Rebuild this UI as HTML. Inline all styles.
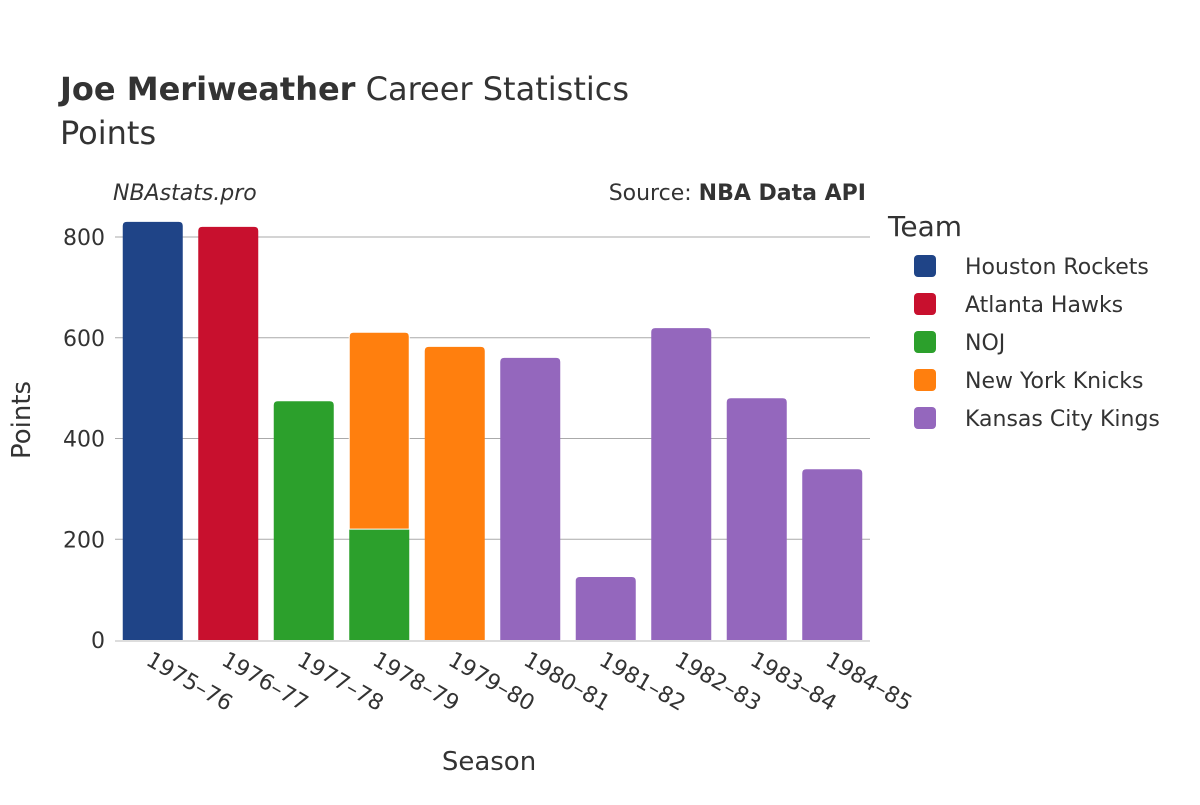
<!DOCTYPE html>
<html><head><meta charset="utf-8"><style>
body{margin:0;background:#fff;font-family:"Liberation Sans","DejaVu Sans",sans-serif}
svg text{font-family:"DejaVu Sans","Liberation Sans",sans-serif;fill:#333}
</style></head><body>
<svg id="c" width="1200" height="800" viewBox="0 0 1200 800">
<text x="60" y="100" font-size="32"><tspan font-weight="bold">Joe Meriweather</tspan> Career Statistics</text>
<text x="60" y="144" font-size="32">Points</text>
<text x="113" y="200" font-size="22" font-style="italic">NBAstats.pro</text>
<text x="866" y="200" font-size="22" text-anchor="end">Source: <tspan font-weight="bold">NBA Data API</tspan></text>
<text x="30" y="420" font-size="26" text-anchor="middle" transform="rotate(-90 30 420)">Points</text>
<text x="489" y="770" font-size="26" text-anchor="middle">Season</text>
<text x="888" y="236" font-size="28">Team</text>
<g id="grid"></g><g id="bars"></g><g id="xt"></g><g id="leg"></g>
</svg>
<script>
const seasons=["1975–76","1976–77","1977–78","1978–79","1979–80","1980–81","1981–82","1982–83","1983–84","1984–85"];
const teams=["Houston Rockets","Atlanta Hawks","NOJ","New York Knicks","Kansas City Kings"];
const colors=["#1f4487","#c8102e","#2ca02c","#ff7f0e","#9467bd"];
const houston=[830,0,0,0,0,0,0,0,0,0];
const atlanta=[0,820,0,0,0,0,0,0,0,0];
const noj=[0,0,474,220,0,0,0,0,0,0];
const knicks=[0,0,0,391,582,0,0,0,0,0];
const kings=[0,0,0,0,0,560,125,619,480,339];
const yTicks=[0,200,400,600,800];
const series=[houston,atlanta,noj,knicks,kings];
const NS="http://www.w3.org/2000/svg";
const x0=115,x1=870,y0=640,ppu=(640-237)/800;
const y=v=>y0-v*ppu;
const band=(x1-x0)/seasons.length;
const bw=60;
function el(t,a,p){const e=document.createElementNS(NS,t);for(const k in a)e.setAttribute(k,a[k]);document.getElementById(p).appendChild(e);return e;}
yTicks.forEach(t=>{
  if(t>0){const l=el("line",{x1:x0,x2:x1,y1:y(t),y2:y(t),stroke:"#aaa","stroke-width":1},"grid");
  
  }
  const tx=el("text",{x:x0-10,y:y(t)+8,"font-size":22,"text-anchor":"end"},"grid");
  tx.textContent=t;
  
  
});
const ax=el("line",{x1:x0,x2:x1,y1:y0+1,y2:y0+1,stroke:"#ddd","stroke-width":2},"grid");


seasons.forEach((s,i)=>{
  const cx=x0+band*(i+0.5);
  let base=0;const segs=[];
  series.forEach((arr,k)=>{if(arr[i]>0){segs.push([k,base,base+arr[i]]);base+=arr[i];}});
  segs.forEach(([k,b,t],j)=>{
    const top=j===segs.length-1;const r=top?4:0;
    const xl=cx-bw/2,xr=cx+bw/2,yt=y(t),yb=y(b);
    const d=`M${xl},${yb}L${xl},${yt+r}Q${xl},${yt} ${xl+r},${yt}L${xr-r},${yt}Q${xr},${yt} ${xr},${yt+r}L${xr},${yb}Z`;
    const p=el("path",{d:d,fill:colors[k],stroke:"#fff","stroke-width":j>0?1:0},"bars");
    
    
  });
  const tx=el("text",{x:cx-8,y:664,"font-size":22,transform:`rotate(30 ${cx-8} 664)`},"xt");
  tx.textContent=s;
  
  
});
teams.forEach((t,k)=>{
  const yy=266+k*38;
  const r=el("rect",{x:914,y:yy-11,width:22,height:22,rx:4,fill:colors[k]},"leg");
  
  
  const tx=el("text",{x:965,y:yy+8,"font-size":22},"leg");
  tx.textContent=t;
  
  
});
</script>
</body></html>
